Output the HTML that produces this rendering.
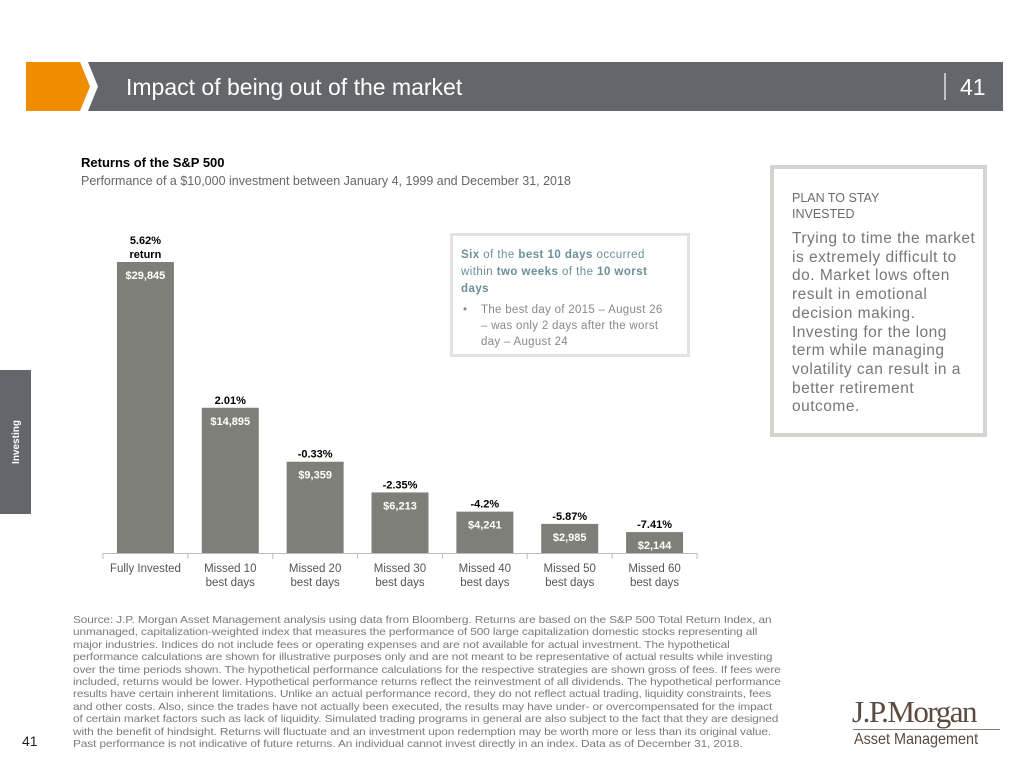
<!DOCTYPE html>
<html><head><meta charset="utf-8">
<style>
body{margin:0;width:1024px;height:768px;background:#fff;position:relative;overflow:hidden;font-family:"Liberation Sans",Arial,sans-serif;}
.abs{position:absolute;}
</style></head>
<body>
<svg class="abs" style="left:0;top:0" width="1024" height="768">
  <polygon points="26,62 80,62 90,86.5 80,111 26,111" fill="#ef8c00"/>
  <polygon points="88,62 1003,62 1003,111 88,111 98,86.5" fill="#63666a"/>
  <text x="126" y="95" fill="#fff" font-size="23" font-family="Liberation Sans">Impact of being out of the market</text>
  <line x1="945" y1="73" x2="945" y2="100" stroke="#fff" stroke-width="1.2"/>
  <text x="960" y="95" fill="#fff" font-size="23">41</text>
  <rect x="0" y="370" width="31" height="144" fill="#63666a"/>
  <text transform="translate(19,442) rotate(-90)" text-anchor="middle" fill="#fff" font-size="10" font-weight="bold">Investing</text>
  <g id="chart"></g>
</svg>
<div class="abs" style="left:81px;top:155px;font-size:13px;font-weight:bold;color:#000">Returns of the S&amp;P 500</div>
<div class="abs" style="left:81px;top:174px;font-size:12.5px;color:#666">Performance of a $10,000 investment between January 4, 1999 and December 31, 2018</div>

<div class="abs" style="left:450px;top:233px;width:234px;height:118px;border:3px solid #e2e2e0;background:#fff;white-space:nowrap">
  <div style="margin:11px 0 0 8px;font-size:11.5px;line-height:17px;color:#6a8f9a;letter-spacing:0.45px"><b>Six</b> of the <b>best 10 days</b> occurred<br>within <b>two weeks</b> of the <b>10 worst</b><br><b>days</b></div>
  <div style="margin:4px 4px 0 8px;font-size:11.5px;line-height:16px;color:#888;padding-left:20px;position:relative;letter-spacing:0.3px"><span style="position:absolute;left:2px">•</span>The best day of 2015 – August 26<br>– was only 2 days after the worst<br>day – August 24</div>
</div>

<div class="abs" style="left:770px;top:165px;width:209px;height:264px;border:4px solid #d3d3cf;background:#fff;white-space:nowrap">
  <div style="margin:21px 0 0 18px;font-size:12.5px;line-height:16px;color:#6b6b6b">PLAN TO STAY<br>INVESTED</div>
  <div style="margin:8px 0 0 18px;font-size:15.5px;line-height:18.7px;color:#777;letter-spacing:0.5px">Trying to time the market<br>is extremely difficult to<br>do. Market lows often<br>result in emotional<br>decision making.<br>Investing for the long<br>term while managing<br>volatility can result in a<br>better retirement<br>outcome.</div>
</div>

<div class="abs" style="left:73px;top:614px;font-size:10.5px;line-height:12.4px;color:#7a7a7a;letter-spacing:-0.1px;white-space:nowrap;transform:scaleX(1.13);transform-origin:left top">Source: J.P. Morgan Asset Management analysis using data from Bloomberg. Returns are based on the S&amp;P 500 Total Return Index, an<br>unmanaged, capitalization-weighted index that measures the performance of 500 large capitalization domestic stocks representing all<br>major industries. Indices do not include fees or operating expenses and are not available for actual investment. The hypothetical<br>performance calculations are shown for illustrative purposes only and are not meant to be representative of actual results while investing<br>over the time periods shown. The hypothetical performance calculations for the respective strategies are shown gross of fees. If fees were<br>included, returns would be lower. Hypothetical performance returns reflect the reinvestment of all dividends. The hypothetical performance<br>results have certain inherent limitations. Unlike an actual performance record, they do not reflect actual trading, liquidity constraints, fees<br>and other costs. Also, since the trades have not actually been executed, the results may have under- or overcompensated for the impact<br>of certain market factors such as lack of liquidity. Simulated trading programs in general are also subject to the fact that they are designed<br>with the benefit of hindsight. Returns will fluctuate and an investment upon redemption may be worth more or less than its original value.<br>Past performance is not indicative of future returns. An individual cannot invest directly in an index. Data as of December 31, 2018.</div>
<div class="abs" style="left:22px;top:733px;font-size:14px;color:#222">41</div>
<div class="abs" style="left:852px;top:694px;font-family:'Liberation Serif',serif;font-size:31px;color:#5a4a3f;letter-spacing:-1.5px">J.P.Morgan</div>
<div class="abs" style="left:853px;top:729px;width:147px;border-top:1px solid #8a7a70"></div>
<div class="abs" style="left:854px;top:731px;font-size:16px;color:#5a4a3f;transform:scaleX(0.9);transform-origin:left">Asset Management</div>

<script>
const categories=["Fully Invested","Missed 10|best days","Missed 20|best days","Missed 30|best days","Missed 40|best days","Missed 50|best days","Missed 60|best days"];
const values=[29845,14895,9359,6213,4241,2985,2144];
const valueLabels=["$29,845","$14,895","$9,359","$6,213","$4,241","$2,985","$2,144"];
const returnLabels=["5.62%|return","2.01%","-0.33%","-2.35%","-4.2%","-5.87%","-7.41%"];
const NS="http://www.w3.org/2000/svg";
const g=document.getElementById('chart');
const x0=103,x1=697,yBase=553,yTop=262,vMax=29845;
const band=(x1-x0)/categories.length, barW=57;
const y=v=>yBase-(v/vMax)*(yBase-yTop);
const xc=i=>x0+band*(i+0.5);
function el(t,a){const e=document.createElementNS(NS,t);for(const k in a)e.setAttribute(k,a[k]);g.appendChild(e);return e;}
values.forEach((v,i)=>{
  const r=el('rect',{x:xc(i)-barW/2,y:y(v),width:barW,height:yBase-y(v),fill:'#7f7f7a'});
  
  
  const vl=el('text',{x:xc(i),y:y(v)+17,'text-anchor':'middle',fill:'#fff','font-size':11,'font-weight':'bold'});
  vl.textContent=valueLabels[i];
  
  
  const parts=returnLabels[i].split('|');
  parts.forEach((p,j)=>{
    const t=el('text',{x:xc(i),y:y(v)-4-(parts.length-1-j)*14,'text-anchor':'middle',fill:'#000','font-size':11,'font-weight':'bold'});
    t.textContent=p;
    
    
  });
  categories[i].split('|').forEach((p,j)=>{
    const t=el('text',{x:xc(i),y:yBase+19+j*14,'text-anchor':'middle',fill:'#555','font-size':11.5});
    t.textContent=p;
    
    
  });
});
const ax=el('line',{x1:x0,y1:yBase+0.5,x2:x1,y2:yBase+0.5,stroke:'#bdbdbd','stroke-width':1});


for(let i=0;i<=categories.length;i++){
  const tk=el('line',{x1:x0+band*i,y1:yBase,x2:x0+band*i,y2:yBase+6,stroke:'#bdbdbd'});
  
  
}
</script>
</body></html>
